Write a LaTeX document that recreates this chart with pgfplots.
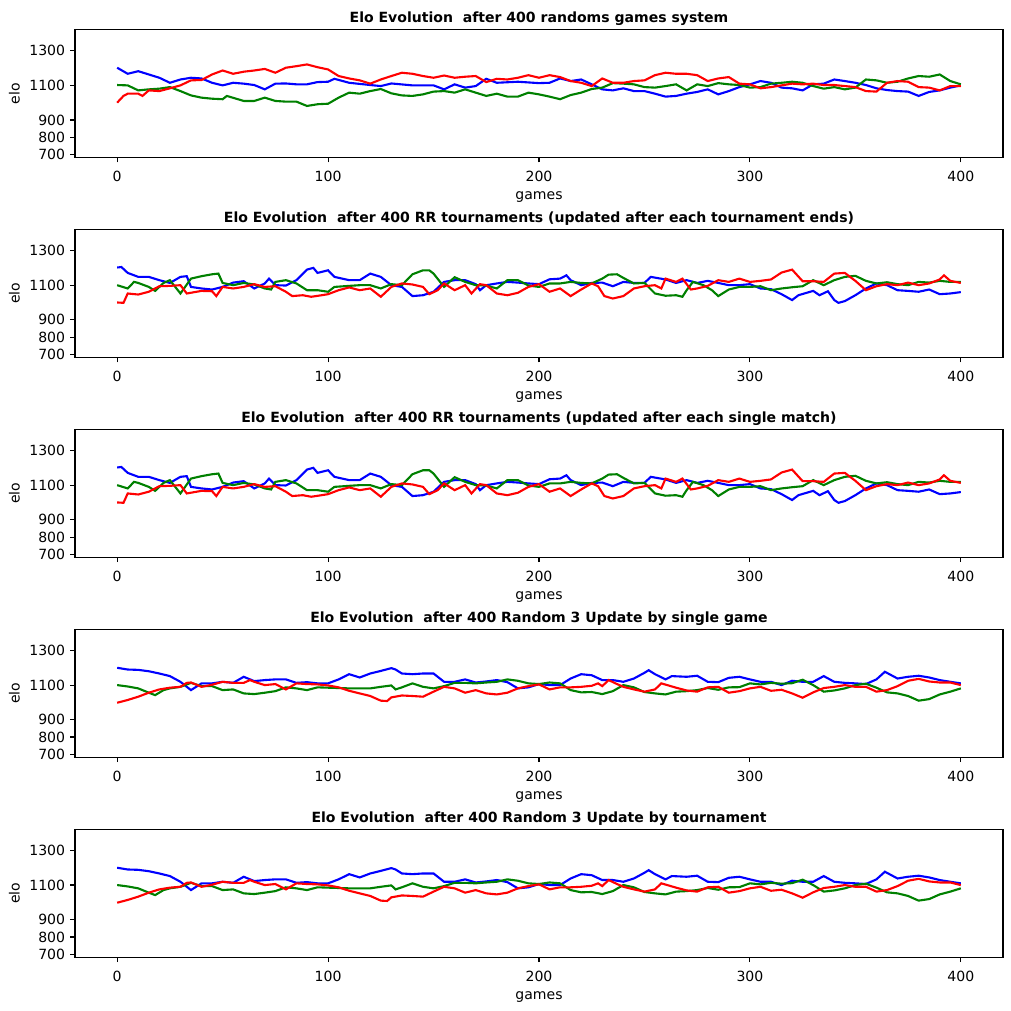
\documentclass[border=0pt]{standalone}
\usepackage{fontspec}
\setmainfont{DejaVu Sans}
\usepackage{pgfplots}
\usepackage{pgfplotstable}
\pgfplotsset{compat=1.18}
\definecolor{mgreen}{rgb}{0,0.5,0}

% Panel 1
\pgfplotstableread{
g v
0 1202
5 1167
10 1182
15 1163
20 1144
25 1115
30 1134
35 1144
40 1140
45 1115
50 1100
55 1115
60 1110
65 1102
70 1077
75 1110
80 1111
85 1106
90 1106
95 1119
100 1121
103 1138
110 1115
120 1102
125 1096
130 1111
140 1100
150 1100
155 1077
160 1106
165 1087
170 1096
175 1138
180 1115
190 1121
200 1113
205 1115
210 1140
215 1125
220 1134
225 1106
230 1077
235 1071
240 1083
245 1067
250 1067
255 1052
260 1035
265 1039
270 1052
275 1062
280 1077
285 1048
290 1067
295 1090
300 1106
305 1125
310 1115
315 1087
320 1083
325 1071
330 1106
335 1110
340 1134
345 1125
350 1115
355 1102
360 1083
365 1073
370 1067
375 1064
380 1039
385 1062
390 1071
395 1087
400 1100
}\pOneB
\pgfplotstableread{
g v
0 1102
5 1100
10 1071
15 1077
20 1081
25 1090
30 1067
35 1042
40 1029
45 1023
50 1020
52 1039
60 1010
65 1010
70 1029
75 1010
80 1006
85 1006
90 981
95 991
100 994
105 1029
110 1058
115 1052
120 1067
125 1079
130 1054
135 1042
140 1039
145 1048
150 1064
155 1067
160 1058
165 1077
170 1058
175 1039
180 1052
185 1035
190 1035
195 1058
200 1048
205 1035
210 1020
215 1044
220 1058
225 1079
230 1087
235 1113
240 1110
245 1106
250 1090
255 1087
260 1096
265 1106
270 1071
275 1106
280 1096
285 1113
290 1106
295 1102
300 1087
305 1090
310 1110
315 1115
320 1121
325 1115
330 1096
335 1081
340 1090
345 1077
350 1087
355 1134
360 1129
365 1115
370 1121
375 1140
380 1154
385 1150
390 1163
395 1125
400 1106
}\pOneG
\pgfplotstableread{
g v
0 1000
3 1039
5 1052
10 1052
12 1039
15 1071
20 1067
25 1083
30 1100
35 1129
40 1131
45 1163
50 1186
55 1167
60 1179
65 1186
70 1195
75 1173
80 1202
85 1211
90 1221
95 1205
100 1192
105 1154
110 1140
115 1129
120 1110
125 1134
130 1154
135 1173
140 1167
145 1154
150 1144
155 1157
160 1144
165 1150
170 1154
175 1119
180 1138
185 1134
190 1144
195 1159
200 1144
205 1159
210 1148
215 1125
220 1115
225 1096
230 1140
235 1115
240 1115
245 1125
250 1129
255 1159
260 1173
265 1167
270 1167
275 1159
280 1125
285 1140
290 1148
295 1110
300 1106
305 1083
310 1090
315 1100
320 1110
325 1106
330 1110
335 1102
340 1102
345 1096
350 1090
355 1067
360 1064
365 1115
370 1125
375 1121
380 1090
385 1087
390 1071
395 1096
400 1096
}\pOneR

% Panel 2 / 3
\pgfplotstableread{
g v
0 1202
2 1205
5 1171
10 1148
15 1148
20 1129
25 1113
30 1148
33 1152
35 1090
40 1081
45 1075
50 1090
55 1115
60 1123
65 1081
70 1110
72 1138
75 1100
80 1098
85 1129
90 1190
93 1200
95 1171
100 1186
103 1148
110 1129
115 1129
120 1167
125 1148
130 1100
135 1090
140 1037
145 1042
150 1062
155 1119
160 1129
165 1129
170 1106
172 1071
175 1100
180 1110
185 1119
190 1115
195 1110
200 1106
205 1134
210 1138
213 1157
215 1129
220 1100
225 1113
230 1115
235 1094
240 1119
245 1113
250 1113
253 1148
260 1133
265 1113
270 1129
275 1113
280 1125
285 1113
290 1100
295 1100
300 1106
305 1081
310 1077
315 1048
320 1014
323 1042
330 1067
333 1042
337 1065
340 1014
342 998
345 1008
350 1042
355 1081
360 1110
365 1100
370 1071
375 1067
380 1062
385 1075
390 1048
395 1052
400 1060
}\pTwoB
\pgfplotstableread{
g v
0 1100
5 1081
8 1119
10 1113
15 1090
18 1067
22 1113
25 1129
30 1052
35 1138
40 1152
45 1163
48 1167
50 1113
55 1100
60 1113
65 1104
70 1081
73 1075
75 1119
80 1129
85 1110
90 1071
95 1071
100 1062
103 1090
110 1096
115 1100
120 1100
125 1081
130 1106
135 1100
140 1163
145 1186
148 1186
150 1167
155 1090
160 1146
165 1119
170 1100
175 1098
180 1081
185 1129
190 1129
195 1098
200 1090
205 1110
210 1110
215 1119
220 1113
225 1110
230 1138
233 1161
237 1163
240 1142
245 1110
250 1113
255 1052
260 1039
265 1042
268 1033
270 1071
273 1119
278 1100
282 1071
285 1037
290 1075
295 1090
300 1090
305 1094
310 1071
315 1081
320 1088
325 1094
330 1129
335 1100
340 1129
345 1148
350 1154
355 1125
360 1110
365 1117
370 1106
375 1100
380 1119
385 1115
390 1125
395 1119
400 1119
}\pTwoG
\pgfplotstableread{
g v
0 1000
3 998
5 1052
10 1046
15 1062
20 1094
25 1096
30 1100
33 1052
40 1067
45 1065
47 1037
50 1090
55 1081
60 1090
65 1106
70 1090
75 1094
80 1062
83 1037
88 1042
92 1033
97 1042
100 1048
105 1071
110 1087
115 1071
120 1081
125 1033
130 1090
135 1110
140 1104
145 1090
148 1048
152 1071
155 1110
160 1071
165 1100
168 1052
172 1106
175 1100
180 1052
185 1042
190 1056
195 1090
200 1106
205 1062
210 1081
215 1037
220 1075
225 1110
228 1094
231 1037
235 1023
240 1037
245 1081
250 1094
255 1100
258 1081
260 1138
265 1119
268 1138
272 1075
275 1081
280 1096
285 1129
290 1119
295 1138
300 1119
305 1125
310 1133
315 1173
320 1190
325 1123
330 1123
335 1119
340 1167
345 1171
350 1125
355 1071
360 1094
365 1106
370 1100
375 1115
380 1100
385 1110
390 1133
392 1157
395 1125
400 1113
}\pTwoR

% Panel 4 / 5
\pgfplotstableread{
g v
0 1200
5 1190
10 1188
15 1180
20 1167
25 1152
30 1119
35 1071
40 1110
45 1110
50 1119
55 1113
60 1148
65 1123
70 1129
75 1133
80 1133
85 1113
90 1117
95 1110
100 1110
105 1133
110 1163
115 1144
120 1167
125 1182
130 1198
132 1190
135 1167
140 1163
145 1167
150 1167
155 1119
160 1119
165 1133
170 1115
175 1121
180 1129
185 1117
190 1081
195 1087
200 1106
205 1100
210 1100
215 1138
220 1163
225 1157
230 1129
235 1129
240 1119
245 1138
250 1171
252 1186
255 1163
260 1133
263 1152
270 1148
275 1154
280 1119
285 1117
290 1142
295 1148
300 1133
305 1119
310 1119
315 1100
320 1125
325 1119
330 1119
335 1152
340 1119
345 1113
350 1110
355 1106
360 1133
364 1177
370 1138
375 1148
380 1154
385 1144
390 1129
395 1119
400 1110
}\pFourB
\pgfplotstableread{
g v
0 1100
5 1092
10 1081
15 1056
18 1042
22 1071
25 1081
30 1090
35 1113
40 1094
45 1094
50 1071
55 1075
60 1052
65 1048
70 1056
75 1065
80 1087
85 1081
90 1071
95 1087
100 1085
105 1083
110 1081
115 1081
120 1081
125 1090
130 1098
132 1075
135 1087
140 1110
145 1090
150 1081
155 1094
160 1113
165 1113
170 1110
175 1115
180 1119
185 1133
190 1125
195 1110
200 1106
205 1115
210 1110
215 1071
220 1058
225 1060
230 1048
235 1065
240 1100
245 1087
250 1060
255 1052
260 1046
265 1062
270 1065
275 1071
280 1083
285 1073
290 1087
295 1088
300 1110
305 1104
310 1113
315 1108
320 1111
325 1131
330 1100
335 1062
340 1069
345 1081
350 1100
355 1108
360 1085
365 1058
370 1052
375 1037
380 1010
385 1019
390 1046
395 1062
400 1081
}\pFourG
\pgfplotstableread{
g v
0 998
5 1014
10 1033
15 1056
20 1075
25 1085
30 1090
33 1113
35 1115
40 1090
45 1102
50 1119
55 1113
60 1113
63 1129
65 1119
70 1100
75 1106
80 1075
85 1110
90 1106
95 1104
100 1098
105 1087
110 1067
115 1052
120 1037
125 1010
128 1008
130 1029
135 1040
140 1037
145 1033
150 1062
155 1090
160 1081
165 1056
170 1071
175 1052
180 1046
185 1056
190 1081
195 1094
200 1104
205 1075
210 1087
215 1087
220 1090
225 1096
228 1110
230 1094
233 1129
237 1106
240 1090
245 1075
250 1062
255 1075
258 1110
265 1085
270 1069
275 1062
280 1087
285 1090
290 1056
295 1065
300 1081
305 1090
310 1067
315 1073
320 1052
325 1027
330 1058
335 1083
340 1090
345 1100
350 1090
355 1090
360 1062
365 1071
370 1094
375 1125
380 1136
385 1121
390 1115
395 1115
400 1100
}\pFourR

\pgfplotsset{eloaxis/.style={
  scale only axis, width=660.9pt, height=91.2pt,
  xmin=-20, xmax=420, ymin=683, ymax=1423,
  xtick={0,100,200,300,400}, ytick={700,800,900,1100,1300},
  xlabel={games}, ylabel={elo},
  tick align=outside, xtick pos=left, ytick pos=left,
  major tick length=3.5pt,
  every tick/.style={black, line width=0.8pt},
  axis line style={line width=0.8pt},
  /pgf/number format/assume math mode=true,
  /pgf/number format/1000 sep={},
  tick label style={font=\fontsize{10}{12}\selectfont},
  xticklabel style={yshift=-2.8pt},
  label style={font=\fontsize{10}{12}\selectfont},
  title style={font=\bfseries\fontsize{10}{12}\selectfont, anchor=base, yshift=-1pt, inner sep=0pt},
  no markers,
  every axis plot/.append style={line width=1.5pt},
}}

\begin{document}
\begin{tikzpicture}
\useasboundingbox (0,0) rectangle (720pt,720pt);
\begin{axis}[eloaxis, at={(53.4pt,699pt)}, anchor=north west,
  title={Elo Evolution\ \ after 400 randoms games system}]
\addplot[blue] table[x=g,y=v]{\pOneB};
\addplot[mgreen] table[x=g,y=v]{\pOneG};
\addplot[red] table[x=g,y=v]{\pOneR};
\end{axis}
\begin{axis}[eloaxis, at={(53.4pt,556.7pt)}, anchor=north west,
  title={Elo Evolution\ \ after 400 RR tournaments (updated after each tournament ends)}]
\addplot[blue] table[x=g,y=v]{\pTwoB};
\addplot[mgreen] table[x=g,y=v]{\pTwoG};
\addplot[red] table[x=g,y=v]{\pTwoR};
\end{axis}
\begin{axis}[eloaxis, at={(53.4pt,414.3pt)}, anchor=north west,
  title={Elo Evolution\ \ after 400 RR tournaments (updated after each single match)}]
\addplot[blue] table[x=g,y=v]{\pTwoB};
\addplot[mgreen] table[x=g,y=v]{\pTwoG};
\addplot[red] table[x=g,y=v]{\pTwoR};
\end{axis}
\begin{axis}[eloaxis, at={(53.4pt,271.9pt)}, anchor=north west,
  title={Elo Evolution\ \ after 400 Random 3 Update by single game}]
\addplot[blue] table[x=g,y=v]{\pFourB};
\addplot[mgreen] table[x=g,y=v]{\pFourG};
\addplot[red] table[x=g,y=v]{\pFourR};
\end{axis}
\begin{axis}[eloaxis, at={(53.4pt,129.5pt)}, anchor=north west,
  title={Elo Evolution\ \ after 400 Random 3 Update by tournament}]
\addplot[blue] table[x=g,y=v]{\pFourB};
\addplot[mgreen] table[x=g,y=v]{\pFourG};
\addplot[red] table[x=g,y=v]{\pFourR};
\end{axis}
\end{tikzpicture}
\end{document}
